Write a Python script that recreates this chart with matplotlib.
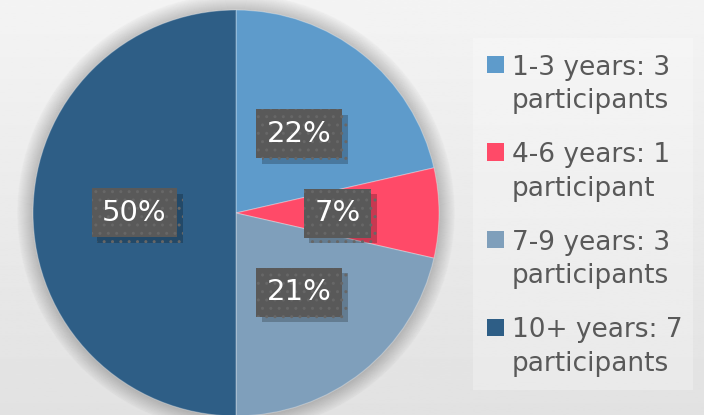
import numpy as np
import matplotlib.pyplot as plt
from matplotlib.patches import Rectangle, Circle
import matplotlib.patheffects as pe

categories = ['1-3 years: 3\nparticipants', '4-6 years: 1\nparticipant',
              '7-9 years: 3\nparticipants', '10+ years: 7\nparticipants']
counts = [3, 1, 3, 7]
pct_labels = ['22%', '7%', '21%', '50%']
colors = ['#5e9bcb', '#ff4a68', '#7f9fbb', '#2e5e86']

W, H = 704, 415
fig = plt.figure(figsize=(W / 100, H / 100), dpi=100)

# background gradient
bg = fig.add_axes([0, 0, 1, 1])
grad = np.linspace(0.955, 0.885, 256).reshape(-1, 1)
bg.imshow(grad, cmap='gray', vmin=0, vmax=1, aspect='auto', extent=[0, 1, 0, 1])
bg.axis('off')

# legend panel
bg.add_patch(Rectangle((473 / W, 1 - 390 / H), 220 / W, 352 / H,
                       facecolor='white', alpha=0.25, edgecolor='none'))

# pie
cx, cy, r = 236, 213, 203
ax = fig.add_axes([(cx - r) / W, (H - cy - r) / H, 2 * r / W, 2 * r / H])
for k in range(16):
    ax.add_patch(Circle((0, 0), 1 + 0.005 * k, color='black', alpha=0.012,
                        zorder=0, clip_on=False))
wedges, texts = ax.pie(counts, colors=colors, startangle=90, counterclock=False,
                       labels=pct_labels, labeldistance=0.5,
                       wedgeprops=dict(linewidth=0.8, edgecolor=(1, 1, 1, 0.3)))
for w in wedges:
    w.set_clip_on(False)
    w.set_zorder(2)
for t in texts:
    t.set_color('white')
    t.set_fontsize(21)
    t.set_ha('center')
    t.set_va('center')
    t.set_zorder(5)
    t.set_bbox(dict(boxstyle='square,pad=0.36', facecolor='#595959',
                    edgecolor='#676767', linewidth=0, hatch='..'))
    t.get_bbox_patch().set_path_effects(
        [pe.SimplePatchShadow(offset=(4, -4), shadow_rgbFace='black', alpha=0.22),
         pe.Normal()])
ax.set_xlim(-1, 1)
ax.set_ylim(-1, 1)
ax.set_aspect('equal')
ax.axis('off')

# legend
y0, step = 64.5, 87.5
for i, (lab, c) in enumerate(zip(categories, colors)):
    yc = y0 + i * step
    bg.add_patch(Rectangle((487 / W, 1 - (yc + 8.5) / H), 17 / W, 17 / H,
                           facecolor=c, edgecolor='none'))
    # va='baseline' anchors the last line, so place it one line below
    fig.text(512 / W, 1 - (yc + 9.5 + 34) / H, lab, fontsize=19, color='#595959',
             ha='left', va='baseline', linespacing=1.36)

fig.savefig('out.png', dpi=100)
